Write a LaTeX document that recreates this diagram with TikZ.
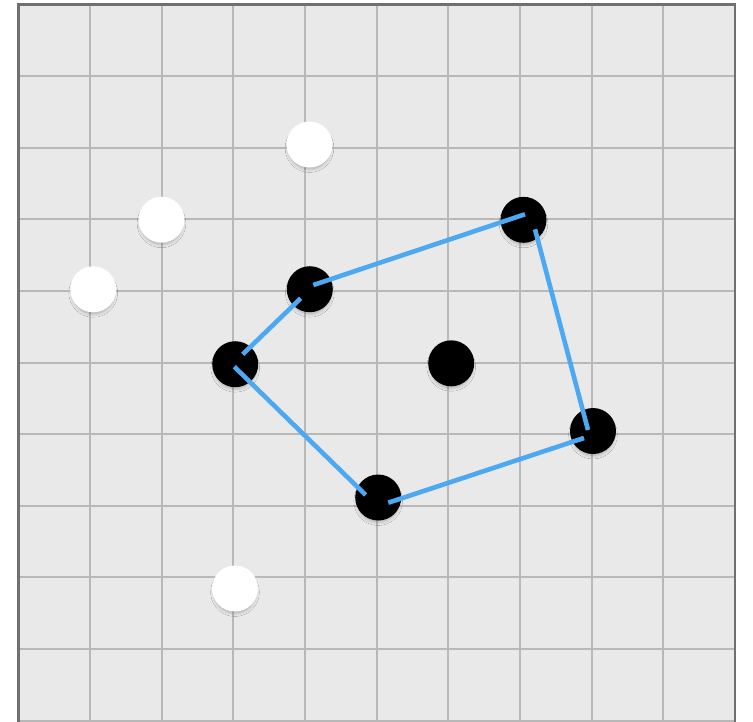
\documentclass[tikz,border=0pt]{standalone}
\usetikzlibrary{shadows.blur}
\definecolor{panelbg}{HTML}{E9E9E9}
\definecolor{gridgray}{HTML}{B8B8B8}
\definecolor{framegray}{HTML}{707070}
\definecolor{hullblue}{HTML}{4DA8F2}
\tikzset{
  dotbase/.style={circle, inner sep=0pt, minimum size=46pt,
    blur shadow={shadow xshift=0pt, shadow yshift=-4pt, shadow scale=0.9, shadow blur radius=4pt, shadow blur steps=12, shadow opacity=28}},
  whitedot/.style={dotbase, fill=white},
  blackdot/.style={dotbase, fill=black},
  hull/.style={draw=hullblue, line width=4.6pt, line cap=butt},
  gridline/.style={draw=gridgray, line width=2pt},
  frameline/.style={draw=framegray, line width=2.6pt}
}
\begin{document}
\begin{tikzpicture}[x=1pt, y=-1pt]
\useasboundingbox (0,0) rectangle (753,721);
\clip (0,0) rectangle (753,721);
\fill[white] (0,0) rectangle (753,721);
\fill[panelbg] (18.5,4.5) rectangle (735,730);
\foreach \k in {1,...,9} {
  \draw[gridline] ({18.5+71.65*\k},4.5) -- ({18.5+71.65*\k},730);
}
\foreach \k in {1,...,10} {
  \draw[gridline] (18.5,{4.5+71.6*\k}) -- (735,{4.5+71.6*\k});
}
\draw[frameline] (18.5,730) -- (18.5,4.5) -- (735,4.5) -- (735,730);
% white dots
\node[whitedot] (w1) at (309.5,144.5) {};
\node[whitedot] (w2) at (161.5,219.7) {};
\node[whitedot] (w3) at (93.2,289.3) {};
\node[whitedot] (w4) at (235,588.5) {};
% black dots
\node[blackdot] (a) at (235.2,364.2) {};
\node[blackdot] (b) at (309.8,289.2) {};
\node[blackdot] (c) at (523.5,219.8) {};
\node[blackdot] (d) at (593,431) {};
\node[blackdot] (e) at (378.2,497.5) {};
\node[blackdot] (f) at (451.2,363.3) {};
% hull
\draw[hull] ([shift={(7.5,-9.9)}]a.center) -- ([shift={(-9.1,9.1)}]b.center);
\draw[hull] ([shift={(3.5,-4.2)}]b.center) -- ([shift={(1.5,-5.5)}]c.center);
\draw[hull] ([shift={(11.5,9.5)}]c.center) -- ([shift={(-5,-1)}]d.center);
\draw[hull] ([shift={(-9,7)}]d.center) -- ([shift={(10.1,5.2)}]e.center);
\draw[hull] ([shift={(-12.5,-2.5)}]e.center) -- ([shift={(-0.9,2.5)}]a.center);
\end{tikzpicture}
\end{document}
